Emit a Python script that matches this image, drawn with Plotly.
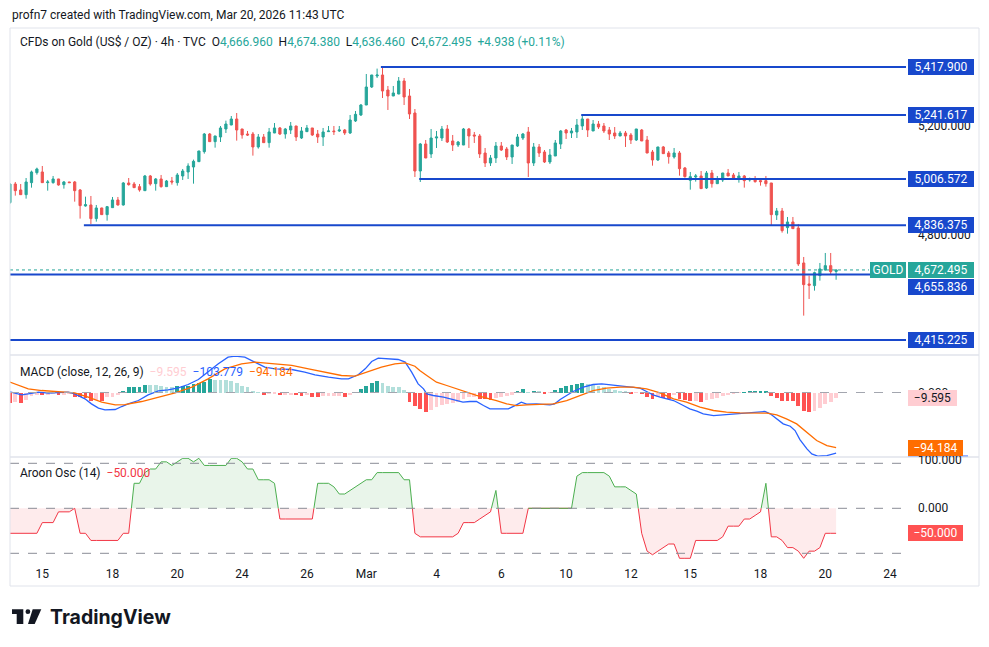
import plotly.graph_objects as go

# ---------------- DATA ----------------
bars = list(range(-1, 153))

opens = [4919.7, 4988.2, 4966.2, 4949.0, 4993.1, 5029.8, 5032.3, 4993.1, 4993.1, 5006.6, 4985.8,
         4995.6, 4995.6, 4966.2, 4907.4, 4911.1, 4861.0, 4900.1, 4875.6, 4901.3, 4929.5,
         4911.1, 4991.9, 4988.2, 4978.4, 4963.7, 5017.6, 4989.4, 5006.6, 4978.4, 4999.2,
         4993.1, 5017.6, 5032.3, 5050.6, 5070.2, 5106.9, 5171.8, 5143.7, 5160.8, 5190.2,
         5204.9, 5226.9, 5190.2, 5171.8, 5171.8, 5124.1, 5160.8, 5140.0, 5175.5, 5193.9,
         5171.8, 5186.5, 5201.2, 5157.1, 5180.4, 5193.9, 5171.8, 5160.8, 5180.4, 5182.9,
         5182.9, 5186.5, 5175.5, 5219.6, 5241.6, 5278.3, 5344.4, 5384.8, 5388.5, 5333.4,
         5311.4, 5318.7, 5366.5, 5311.4, 5248.9, 5035.9, 5135.1, 5098.4, 5157.1, 5157.1,
         5190.2, 5146.1, 5131.4, 5131.4, 5190.2, 5168.2, 5164.5, 5102.0, 5065.3, 5083.7,
         5127.8, 5116.7, 5087.4, 5127.8, 5157.1, 5179.2, 5065.3, 5124.1, 5105.7, 5069.0,
         5091.0, 5135.1, 5186.5, 5175.5, 5179.2, 5201.2, 5226.9, 5182.9, 5208.5, 5201.2,
         5186.5, 5175.5, 5164.5, 5175.5, 5168.2, 5149.8, 5186.5, 5149.8, 5105.7, 5076.4,
         5124.1, 5102.1, 5087.4, 5102.1, 5047.0, 5001.7, 5013.9, 5017.6, 4973.5, 5028.6,
         4989.4, 5002.9, 5028.6, 5021.3, 5006.6, 5017.6, 5002.9, 5007.8, 5000.5, 5000.5,
         4991.9, 4874.4, 4889.1, 4827.9, 4848.7, 4826.6, 4698.1, 4621.0, 4614.9, 4651.6,
         4672.4, 4688.3, 4666.96]
highs = [4990.0, 4995.6, 4988.2, 5010.2, 5037.2, 5048.2, 5054.3, 5002.9, 5017.6, 5007.0, 4999.2,
         4996.0, 4999.2, 4969.8, 4941.7, 4944.1, 4911.1, 4901.0, 4907.4, 4940.5, 4940.5,
         4995.6, 5010.2, 4995.6, 4988.2, 5021.3, 5021.3, 5010.2, 5021.3, 5002.9, 5013.9,
         5028.6, 5043.3, 5064.1, 5077.6, 5110.0, 5175.5, 5175.5, 5165.0, 5201.2, 5220.8,
         5237.9, 5248.9, 5190.5, 5182.9, 5179.2, 5171.8, 5171.8, 5193.9, 5212.2, 5197.5,
         5193.9, 5215.9, 5201.5, 5197.5, 5204.9, 5194.0, 5186.5, 5193.9, 5201.2, 5201.2,
         5201.2, 5190.2, 5241.6, 5256.3, 5282.0, 5392.2, 5389.0, 5412.0, 5417.9, 5348.1,
         5348.1, 5381.1, 5377.5, 5337.1, 5263.6, 5138.8, 5149.8, 5190.2, 5182.9, 5201.2,
         5204.9, 5168.2, 5146.1, 5193.9, 5193.9, 5179.2, 5171.8, 5120.4, 5094.7, 5142.4,
         5142.4, 5124.1, 5131.5, 5171.8, 5175.5, 5197.5, 5138.8, 5135.1, 5113.0, 5116.7,
         5149.8, 5186.5, 5190.2, 5193.9, 5226.9, 5241.6, 5227.0, 5223.2, 5219.6, 5212.2,
         5197.5, 5197.5, 5182.9, 5182.9, 5175.5, 5190.5, 5190.2, 5164.5, 5113.1, 5124.5,
         5127.8, 5109.4, 5120.4, 5109.4, 5050.7, 5032.3, 5024.9, 5035.9, 5035.9, 5039.6,
         5017.6, 5029.0, 5043.3, 5028.6, 5032.3, 5021.3, 5011.5, 5017.6, 5007.8, 5017.6,
         4992.0, 4900.1, 4900.1, 4867.0, 4867.0, 4841.3, 4720.1, 4651.6, 4666.3, 4698.1,
         4734.8, 4734.8, 4674.38]
lows = [4915.0, 4945.4, 4948.0, 4934.3, 4974.7, 5022.5, 4992.0, 4963.7, 4989.4, 4982.1, 4971.1,
        4992.5, 4923.3, 4861.0, 4905.0, 4841.3, 4849.9, 4875.0, 4853.6, 4901.0, 4908.7,
        4908.7, 4982.1, 4974.0, 4960.0, 4963.0, 4982.1, 4963.7, 4974.7, 4978.0, 4985.8,
        4982.1, 5002.9, 5006.6, 4989.4, 5070.0, 5099.6, 5143.0, 5121.6, 5142.4, 5175.5,
        5204.0, 5147.4, 5154.7, 5164.5, 5092.3, 5118.0, 5139.5, 5121.6, 5175.0, 5168.2,
        5154.7, 5171.8, 5146.1, 5153.5, 5180.0, 5164.5, 5138.8, 5127.8, 5180.0, 5168.2,
        5179.2, 5168.2, 5171.8, 5215.9, 5237.9, 5278.0, 5340.8, 5377.5, 5304.0, 5260.0,
        5311.0, 5318.0, 5278.3, 5226.9, 5013.9, 4995.6, 5083.0, 5083.7, 5120.4, 5146.1,
        5138.8, 5109.4, 5124.1, 5131.0, 5120.4, 5138.8, 5083.7, 5050.6, 5054.3, 5065.3,
        5109.4, 5076.3, 5061.7, 5124.1, 5149.8, 5013.9, 5054.3, 5087.4, 5065.3, 5061.7,
        5091.0, 5116.7, 5153.5, 5157.1, 5157.1, 5186.5, 5160.8, 5182.9, 5190.2, 5175.5,
        5149.8, 5153.5, 5164.0, 5124.1, 5135.1, 5146.1, 5146.0, 5101.5, 5055.5, 5072.7,
        5099.0, 5062.9, 5081.3, 5018.8, 5011.5, 4967.4, 4996.8, 4970.5, 4969.9, 4974.8,
        4989.0, 4995.6, 5017.0, 5002.9, 4993.1, 4974.8, 4996.8, 4993.1, 4982.1, 4978.4,
        4835.2, 4856.0, 4809.5, 4805.8, 4823.5, 4687.1, 4504.7, 4565.9, 4596.5, 4633.2,
        4670.0, 4657.7, 4636.46]
closes = [4988.2, 4963.7, 4949.0, 4995.6, 5032.3, 5043.3, 4993.1, 4995.6, 5006.6, 4984.5, 4995.6,
          4993.1, 4963.7, 4908.7, 4912.3, 4861.0, 4900.1, 4875.6, 4905.0, 4929.5, 4911.1,
          4991.9, 4985.8, 4974.7, 4966.2, 5017.6, 4988.2, 5006.6, 4978.4, 4999.2, 4995.6,
          5021.3, 5035.9, 5054.3, 5071.5, 5109.4, 5171.8, 5143.7, 5164.5, 5193.9, 5208.5,
          5226.9, 5186.5, 5168.2, 5168.2, 5124.1, 5160.8, 5140.0, 5179.2, 5193.9, 5171.8,
          5190.2, 5201.2, 5160.8, 5182.9, 5193.9, 5168.2, 5160.8, 5179.2, 5182.9, 5180.4,
          5186.5, 5175.5, 5223.2, 5244.1, 5278.3, 5344.4, 5388.5, 5388.5, 5329.7, 5311.4,
          5322.4, 5366.5, 5307.7, 5245.3, 5035.9, 5135.1, 5083.7, 5157.1, 5160.8, 5190.2,
          5142.4, 5131.4, 5142.4, 5190.2, 5164.5, 5164.5, 5098.4, 5065.3, 5083.7, 5127.8,
          5113.0, 5087.4, 5131.4, 5160.8, 5171.8, 5065.3, 5124.1, 5102.0, 5069.0, 5094.7,
          5138.8, 5182.9, 5175.5, 5182.9, 5204.9, 5226.9, 5186.5, 5208.5, 5197.5, 5182.9,
          5171.8, 5164.5, 5175.5, 5164.5, 5149.8, 5190.2, 5146.1, 5102.0, 5076.4, 5124.1,
          5099.6, 5088.6, 5102.1, 5044.5, 5015.2, 5015.2, 5017.6, 4971.1, 5028.6, 4989.4,
          5007.8, 5028.6, 5017.6, 5006.6, 5017.6, 5000.5, 5007.8, 4996.8, 4996.8, 4989.4,
          4875.6, 4889.1, 4816.9, 4848.7, 4824.2, 4694.4, 4618.5, 4616.1, 4662.6, 4676.1,
          4688.3, 4666.3, 4672.495]

# drawn horizontal levels (price, bar where the ray starts)
level_prices = [5417.900, 5241.617, 5006.572, 4836.375, 4655.836, 4415.225]
level_start = [67.7, 104.8, 74.8, 12.7, -1.0, -1.0]
last_price = 4672.495
price_ticks_visible = [5200, 4800]

# MACD (12, 26, 9)
hist = [-18.0, -16.6, -17.7, -12.0, -5.7, -3.4, -4.0, -3.4, -2.3, -4.0, -3.4,
        -2.3, -6.9, -8.0, -9.7, -14.8, -13.0, -14.0, -8.0, -6.9, -5.1,
        2.9, 8.6, 8.8, 9.0, 13.1, 13.0, 12.6, 10.3, 9.7, 9.6,
        10.3, 11.4, 11.5, 14.3, 16.6, 18.8, 22.3, 21.1, 21.0, 20.9,
        20.0, 16.6, 12.0, 8.6, 2.3, 0.3, -3.4, -3.3, -3.2, -4.0,
        -3.9, -3.8, -5.1, -5.7, -4.0, -6.9, -7.0, -6.8, -6.7, -6.6,
        -6.5, -6.9, -4.0, -0.6, 6.3, 12.0, 16.6, 19.4, 16.6, 10.3,
        10.2, 9.7, 4.6, -16.6, -22.3, -28.0, -33.5, -29.1, -25.1, -21.1,
        -19.4, -17.7, -15.4, -10.8, -8.0, -6.9, -10.8, -11.5, -12.0, -8.6,
        -6.9, -6.5, -3.4, 2.3, 5.7, 0.5, 2.3, 2.0, -2.3, -0.6,
        4.0, 7.4, 10.3, 13.1, 14.3, 16.0, 14.3, 13.1, 11.4, 9.1,
        5.7, 4.0, 2.9, 1.7, -2.3, -0.6, -2.9, -7.4, -10.8, -6.9,
        -9.7, -10.8, -5.1, -10.8, -12.6, -14.8, -14.5, -16.6, -12.6, -10.8,
        -9.1, -5.7, -4.0, -2.3, -0.6, 0.6, 2.3, 2.4, 2.5, 2.6,
        -5.7, -9.1, -14.8, -14.9, -15.0, -22.3, -32.0, -33.7, -32.0, -26.3,
        -19.4, -15.4, -9.595]

macd_x = [-1.3, 1.2, 2.4, 4.3, 6.1, 8.0, 9.8, 11.0, 12.9, 14.1, 15.4, 16.6, 18.5, 19.7, 20.9,
          22.8, 24.6, 26.5, 28.3, 30.2, 32.0, 33.9, 35.7, 37.6, 39.4, 40.7, 42.5, 44.4, 46.2,
          48.1, 51.2, 53.6, 55.5, 58.0, 60.4, 61.7, 63.5, 64.8, 66.0, 67.2, 69.1, 70.9, 72.2,
          73.4, 74.6, 75.6, 76.2, 77.4, 79.3, 80.5, 81.7, 82.9, 84.2, 85.4, 86.7, 87.9, 89.7,
          91.3, 92.8, 93.7, 94.7, 96.5, 99.0, 99.9, 100.9, 102.1, 103.3, 105.2, 107.0, 108.6,
          110.1, 112.0, 113.8, 115.7, 116.9, 118.1, 119.4, 120.6, 121.9, 123.7, 124.9, 126.2,
          127.4, 129.3, 131.1, 133.6, 136.7, 138.8, 139.8, 141.0, 142.2, 143.5, 144.4, 145.3,
          146.6, 147.5, 148.7, 150.3, 152.0]
macd_vals = [1.7, -4.0, -2.3, 0.6, -1.1, -0.6, 0.6, -2.3, -10.8, -19.4, -26.8, -29.7, -29.1, -24.0,
             -19.4, -13.7, -4.0, 2.9, 4.6, 8.0, 13.7, 22.3, 36.0, 49.1, 60.5, 62.2, 60.5, 52.0,
             43.4, 40.5, 39.4, 34.8, 30.3, 26.3, 23.4, 23.4, 30.3, 40.5, 53.1, 58.8, 57.7, 56.5,
             52.0, 34.8, 14.8, 6.3, -2.3, -5.1, -8.0, -10.8, -13.7, -16.6, -15.4, -15.4, -22.3,
             -28.0, -28.0, -28.0, -21.1, -16.6, -20.0, -19.4, -21.1, -19.4, -12.0, -5.1, 1.7,
             9.1, 13.7, 14.8, 13.1, 11.4, 9.1, 7.4, 1.7, -4.0, -8.0, -10.8, -13.7, -22.3, -28.0,
             -32.0, -36.5, -39.4, -38.3, -36.5, -34.3, -32.5, -36.5, -45.1, -53.7, -57.7, -65.1,
             -80.5, -96.5, -105.1, -109.1, -107.9, -103.779]

signal_x = [-1.3, 0.6, 2.4, 4.9, 8.0, 11.0, 13.5, 16.0, 18.5, 20.3, 23.4, 26.5, 29.6, 32.7, 35.7,
            38.8, 41.9, 44.4, 48.1, 51.2, 54.3, 57.3, 60.4, 62.9, 65.4, 67.8, 70.3, 72.2, 74.0,
            74.9, 76.2, 78.0, 79.9, 81.7, 83.6, 85.4, 87.3, 89.1, 91.0, 92.8, 94.7, 97.2, 99.6,
            102.1, 104.6, 107.0, 109.5, 112.0, 114.4, 116.9, 119.4, 121.9, 124.3, 126.8, 129.3,
            131.7, 134.2, 136.7, 139.2, 141.0, 142.8, 144.7, 146.6, 148.4, 150.3, 152.0]
signal_vals = [18.8, 12.0, 6.3, 3.4, 1.7, -0.6, -8.0, -16.6, -21.1, -20.6, -15.4, -8.0, -0.6, 9.1,
               23.4, 40.5, 49.1, 52.0, 49.1, 46.3, 40.5, 34.8, 29.1, 28.0, 36.0, 43.4, 49.1, 50.8,
               45.0, 37.7, 29.1, 17.7, 12.0, 6.3, -0.6, -5.1, -9.7, -13.7, -19.4, -22.3, -21.1,
               -20.6, -19.4, -13.7, -5.1, 3.4, 7.4, 9.1, 9.1, 6.3, -0.6, -10.8, -16.6, -25.1,
               -30.8, -33.7, -34.8, -34.8, -35.4, -38.3, -45.1, -53.7, -67.9, -82.2, -90.8,
               -94.184]

# Aroon Oscillator (14)
aroon = [-50.0, -50.0, -50.0, -50.0, -50.0, -50.0, -28.6, -28.6, -28.6, -7.1, -7.1,
         -7.1, 0.0, -50.0, -50.0, -64.3, -64.3, -64.3, -64.3, -64.3, -64.3,
         -50.0, -50.0, 50.0, 50.0, 71.4, 78.6, 78.6, 92.9, 92.9, 85.7,
         92.9, 100.0, 100.0, 92.9, 100.0, 85.7, 85.7, 85.7, 85.7, 85.7,
         100.0, 100.0, 92.9, 78.6, 78.6, 57.1, 57.1, 57.1, 50.0, -21.4,
         -21.4, -21.4, -21.4, -21.4, -21.4, -21.4, 50.0, 50.0, 50.0, 42.9,
         28.6, 28.6, 35.7, 42.9, 50.0, 57.1, 57.1, 71.4, 71.4, 71.4,
         71.4, 71.4, 57.1, 57.1, -50.0, -57.1, -57.1, -57.1, -57.1, -57.1,
         -57.1, -57.1, -50.0, -28.6, -28.6, -28.6, -21.4, -14.3, -7.1, 35.7,
         -50.0, -50.0, -50.0, -50.0, -50.0, 0.0, 0.0, 0.0, 0.0, 0.0,
         0.0, 0.0, 0.0, 0.0, 64.3, 71.4, 71.4, 71.4, 71.4, 71.4,
         64.3, 42.9, 42.9, 42.9, 35.7, 28.6, -50.0, -85.7, -92.9, -85.7,
         -78.6, -71.4, -71.4, -100.0, -100.0, -100.0, -64.3, -64.3, -64.3, -64.3,
         -64.3, -57.1, -35.7, -35.7, -35.7, -21.4, -21.4, -14.3, -7.1, 50.0,
         -57.1, -57.1, -64.3, -78.6, -78.6, -85.7, -100.0, -85.7, -85.7, -78.6,
         -50.0, -50.0, -50.0]

tick_bars = [5, 18, 30, 42, 54, 65, 78, 90, 102, 114, 125, 138, 150, 162]
tick_labels = ["15", "18", "20", "24", "26", "Mar", "4", "6", "10", "12", "15", "18", "20", "24"]

# ---------------- STYLE / GEOMETRY ----------------
W, H = 989, 647
PL, PR, PT, PB = 10, 906, 28, 560   # plot area in pixels
UP, DN = "#26A69A", "#EF5350"
BLUE = "#1848CC"
TXT = "#131722"
FONT = "Roboto"


def px_x(x):
    return (x - PL) / (PR - PL)


def px_y(y):
    return (PB - y) / (PB - PT)


def fmt(v):
    s = f"{abs(v):,.3f}"
    return ("\u2212" + s) if v < 0 else s


fig = go.Figure()

# candles
fig.add_trace(go.Candlestick(
    x=bars, open=opens, high=highs, low=lows, close=closes,
    increasing=dict(line=dict(color=UP, width=1), fillcolor=UP),
    decreasing=dict(line=dict(color=DN, width=1), fillcolor=DN),
    whiskerwidth=0, xaxis="x", yaxis="y", showlegend=False, hoverinfo="skip"))

# MACD histogram colours
hcol = []
for i, v in enumerate(hist):
    prev = hist[i - 1] if i > 0 else v
    if v >= 0:
        hcol.append("#26A69A" if v > prev else "#B2DFDB")
    else:
        hcol.append("#FFCDD2" if v > prev else "#FF5252")

fig.add_trace(go.Bar(x=bars, y=hist, marker=dict(color=hcol, line=dict(width=0)), width=0.72,
                     xaxis="x", yaxis="y2", showlegend=False, hoverinfo="skip"))
fig.add_trace(go.Scatter(x=macd_x, y=macd_vals, mode="lines", line=dict(color="#2962FF", width=1.3),
                         xaxis="x", yaxis="y2", showlegend=False, hoverinfo="skip"))
fig.add_trace(go.Scatter(x=signal_x, y=signal_vals, mode="lines", line=dict(color="#FF6D00", width=1.3),
                         xaxis="x", yaxis="y2", showlegend=False, hoverinfo="skip"))

# Aroon oscillator with zero-crossing split
ax, ay = [], []
for i in range(len(bars)):
    if i > 0:
        y0, y1 = aroon[i - 1], aroon[i]
        if (y0 < 0 < y1) or (y0 > 0 > y1):
            t = y0 / (y0 - y1)
            ax.append(bars[i - 1] + t)
            ay.append(0.0)
    ax.append(bars[i])
    ay.append(aroon[i])

fig.add_trace(go.Scatter(x=ax, y=[max(v, 0) for v in ay], mode="lines", line=dict(width=0),
                         fill="tozeroy", fillcolor="rgba(76,175,80,0.12)",
                         xaxis="x", yaxis="y3", showlegend=False, hoverinfo="skip"))
fig.add_trace(go.Scatter(x=ax, y=[min(v, 0) for v in ay], mode="lines", line=dict(width=0),
                         fill="tozeroy", fillcolor="rgba(242,54,69,0.10)",
                         xaxis="x", yaxis="y3", showlegend=False, hoverinfo="skip"))
fig.add_trace(go.Scatter(x=ax, y=[v if v <= 0 else None for v in ay], mode="lines",
                         line=dict(color="#F23645", width=1), connectgaps=False,
                         xaxis="x", yaxis="y3", showlegend=False, hoverinfo="skip"))
fig.add_trace(go.Scatter(x=ax, y=[v if v >= 0 else None for v in ay], mode="lines",
                         line=dict(color="#4CAF50", width=1), connectgaps=False,
                         xaxis="x", yaxis="y3", showlegend=False, hoverinfo="skip"))

# ---------------- AXES ----------------
x_left = (PL - 15.3) / 5.4
x_right = (PR - 15.3) / 5.4

main_dom = [px_y(355), 1]
macd_dom = [px_y(457), px_y(356)]
aroon_dom = [0, px_y(458)]

fig.update_layout(
    width=W, height=H,
    margin=dict(l=PL, r=W - PR, t=PT, b=H - PB, pad=0),
    paper_bgcolor="white", plot_bgcolor="white",
    font=dict(family=FONT, size=12, color=TXT),
    boxgap=0.42,
    bargap=0,
    showlegend=False,
    xaxis=dict(domain=[0, 1], range=[x_left, x_right], anchor="y3",
               tickmode="array", tickvals=tick_bars, ticktext=tick_labels,
               ticks="outside", ticklen=3, tickcolor="rgba(0,0,0,0)",
               tickfont=dict(family=FONT, size=12, color=TXT),
               showgrid=False, zeroline=False, showline=False,
               rangeslider=dict(visible=False), fixedrange=True),
    yaxis=dict(domain=main_dom, range=[4360.1, 5561.1], showticklabels=False,
               showgrid=False, zeroline=False, fixedrange=True),
    yaxis2=dict(domain=macd_dom, range=[-110.4, 62.5], showticklabels=False,
                showgrid=False, zeroline=False, fixedrange=True, anchor="x"),
    yaxis3=dict(domain=aroon_dom, range=[-103.4, 100.6], showticklabels=False,
                showgrid=False, zeroline=False, fixedrange=True, anchor="x"),
)

shapes = []
# level rays
for p, s in zip(level_prices, level_start):
    shapes.append(dict(type="line", xref="x", yref="y", x0=max(s, x_left), x1=x_right, y0=p, y1=p,
                       line=dict(color=BLUE, width=2)))
# last price dotted line
shapes.append(dict(type="line", xref="paper", yref="y", x0=0, x1=px_x(869), y0=last_price, y1=last_price,
                   line=dict(color=UP, width=1, dash="dot")))
# MACD zero line
shapes.append(dict(type="line", xref="paper", yref="y2", x0=0, x1=1, y0=0, y1=0,
                   line=dict(color="#A3A6AF", width=1, dash="dash")))
# Aroon bands
for lv in (90, 0, -90):
    shapes.append(dict(type="line", xref="paper", yref="y3", x0=0, x1=1, y0=lv, y1=lv,
                       line=dict(color="#8A8D96", width=1, dash="dash")))
# frame & pane separators
RB = px_x(979)
shapes.append(dict(type="rect", xref="paper", yref="paper", x0=0, x1=RB, y0=px_y(586), y1=1,
                   line=dict(color="#E0E3EB", width=1)))
# sliver of the MACD-line price label, cut by the pane edge
shapes.append(dict(type="rect", xref="paper", yref="paper", x0=px_x(908), x1=px_x(968),
                   y0=px_y(457), y1=px_y(455.5), fillcolor="#2962FF", line=dict(width=0)))
for yy in (355, 457):
    shapes.append(dict(type="line", xref="paper", yref="paper", x0=0, x1=RB, y0=px_y(yy), y1=px_y(yy),
                       line=dict(color="#E0E3EB", width=1.5)))

# TradingView logo mark
shapes.append(dict(type="path", xref="paper", yref="paper", fillcolor=TXT, line=dict(width=0),
                   path=f"M {px_x(12)} {px_y(609.3)} L {px_x(23.3)} {px_y(609.3)} L {px_x(23.3)} {px_y(624)} "
                        f"L {px_x(16.7)} {px_y(624)} L {px_x(16.7)} {px_y(614)} L {px_x(12)} {px_y(614)} Z"))
shapes.append(dict(type="circle", xref="paper", yref="paper", fillcolor=TXT, line=dict(width=0),
                   x0=px_x(25.5), x1=px_x(30.3), y0=px_y(614.1), y1=px_y(609.3)))
shapes.append(dict(type="path", xref="paper", yref="paper", fillcolor=TXT, line=dict(width=0),
                   path=f"M {px_x(32.7)} {px_y(609.3)} L {px_x(41.3)} {px_y(609.3)} L {px_x(34.7)} {px_y(624)} "
                        f"L {px_x(28)} {px_y(624)} Z"))
fig.update_layout(shapes=shapes)

ann = []
LBX = px_x(908)
TKX = px_x(916)

# price scale tick labels that are not hidden behind level labels
for v in price_ticks_visible:
    ann.append(dict(xref="paper", yref="y", x=TKX, y=v, xanchor="left", yanchor="middle",
                    text=fmt(v), showarrow=False, font=dict(size=12, color=TXT)))


def box(yref, y, text, bg, fg, w, yshift=0):
    return dict(xref="paper", yref=yref, x=LBX, y=y, xanchor="left", yanchor="middle",
                text=text, showarrow=False, bgcolor=bg, borderpad=1, borderwidth=0,
                width=w, height=14, align="center", yshift=yshift,
                font=dict(size=12, color=fg))


for p in level_prices:
    ann.append(box("y", p, fmt(p), BLUE, "white", 64, yshift=-13 if p == 4655.836 else 0))
ann.append(box("y", last_price, fmt(last_price), UP, "white", 64))
ann.append(dict(xref="paper", yref="y", x=px_x(906), y=last_price, xanchor="right", yanchor="middle",
                text="GOLD", showarrow=False, bgcolor=UP, borderpad=1, borderwidth=0, width=34,
                height=14, font=dict(size=12, color="white")))

# Aroon top scale label (its upper half sits under the MACD pane labels)
ann.append(dict(xref="paper", yref="y3", x=TKX, y=100, xanchor="left", yanchor="middle", yshift=-2,
                text="100.000", showarrow=False, font=dict(size=12, color=TXT)))

# MACD scale
ann.append(dict(xref="paper", yref="y2", x=TKX, y=0, xanchor="left", yanchor="middle",
                text="0.000", showarrow=False, font=dict(size=12, color=TXT)))
ann.append(box("y2", hist[-1], fmt(hist[-1]), "#FFCDD2", TXT, 47))
ann.append(box("y2", signal_vals[-1], fmt(signal_vals[-1]), "#FF6D00", "white", 53))

# Aroon scale
ann.append(dict(xref="paper", yref="y3", x=TKX, y=0, xanchor="left", yanchor="middle",
                text="0.000", showarrow=False, font=dict(size=12, color=TXT)))
ann.append(box("y3", aroon[-1], fmt(aroon[-1]), "#FF5252", "white", 53))

# header and legends
ann.append(dict(xref="paper", yref="paper", x=px_x(10), y=px_y(15), xanchor="left", yanchor="middle",
                text="profn7 created with TradingView.com, Mar 20, 2026 11:43 UTC", showarrow=False,
                font=dict(size=12, color=TXT)))
G = "#26A69A"
legend_main = ("CFDs on Gold (US$ / OZ) \u00b7 4h \u00b7 TVC\u00a0\u00a0"
               f"O<span style='color:{G}'>{opens[-1]:,.3f}</span>\u00a0\u00a0"
               f"H<span style='color:{G}'>{highs[-1]:,.3f}</span>\u00a0\u00a0"
               f"L<span style='color:{G}'>{lows[-1]:,.3f}</span>\u00a0\u00a0"
               f"C<span style='color:{G}'>{closes[-1]:,.3f}</span>\u00a0\u00a0"
               f"<span style='color:{G}'>+4.938 (+0.11%)</span>")
ann.append(dict(xref="paper", yref="paper", x=px_x(18), y=px_y(42), xanchor="left", yanchor="middle",
                text=legend_main, showarrow=False, font=dict(size=12, color=TXT)))
legend_macd = ("MACD (close, 12, 26, 9)\u00a0\u00a0"
               f"<span style='color:#FFCDD2'>{fmt(hist[-1])}</span>\u00a0\u00a0"
               f"<span style='color:#2962FF'>{fmt(macd_vals[-1])}</span>\u00a0\u00a0"
               f"<span style='color:#FF6D00'>{fmt(signal_vals[-1])}</span>")
ann.append(dict(xref="paper", yref="paper", x=px_x(18), y=px_y(372), xanchor="left", yanchor="middle",
                text=legend_macd, showarrow=False, font=dict(size=12, color=TXT)))
legend_aroon = f"Aroon Osc (14)\u00a0\u00a0<span style='color:#F23645'>{fmt(aroon[-1])}</span>"
ann.append(dict(xref="paper", yref="paper", x=px_x(18), y=px_y(473), xanchor="left", yanchor="middle",
                text=legend_aroon, showarrow=False, font=dict(size=12, color=TXT)))

# logo text
ann.append(dict(xref="paper", yref="paper", x=px_x(48), y=px_y(617), xanchor="left", yanchor="middle",
                text="<b>TradingView</b>", showarrow=False,
                font=dict(family="Inter", size=19.5, color=TXT)))

fig.update_layout(annotations=ann)

fig.write_html("out.html")
